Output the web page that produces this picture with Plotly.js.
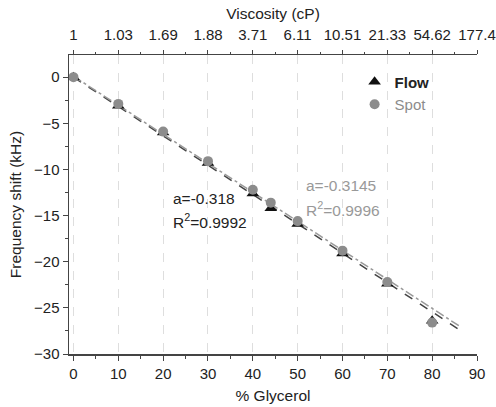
<!DOCTYPE html>
<html>
<head>
<meta charset="utf-8">
<script src="https://cdn.plot.ly/plotly-3.0.1.min.js"></script>
<style>html,body{margin:0;padding:0;background:#fff;}#chart{width:496px;height:407px;}</style>
</head>
<body>
<div id="chart"></div>
<script>
// Data
const glycerol = [0, 10, 20, 30, 40, 44, 50, 60, 70, 80];
const flowShift = [0, -3.1, -6.0, -9.3, -12.6, -14.2, -15.9, -19.1, -22.4, -26.4];
const spotShift = [0, -2.9, -5.9, -9.1, -12.2, -13.6, -15.6, -18.8, -22.2, -26.6];

const viscosityTickPos = [0, 10, 20, 30, 40, 50, 60, 70, 80, 90];
const viscosityLabels = ['1', '1.03', '1.69', '1.88', '3.71', '6.11', '10.51', '21.33', '54.62', '177.4'];

const fitX = [0, 86.5];
const flowSlope = -0.318, flowIntercept = 0.0;
const spotSlope = -0.3145, spotIntercept = 0.1;

const dark = '#222';
const gray = '#8c8c8c';
const font = 'Liberation Sans, Arial, sans-serif';

const traces = [
  {
    x: fitX, y: fitX.map(v => flowSlope * v + flowIntercept),
    mode: 'lines', line: {color: '#444', width: 1.5, dash: 'dash'},
    showlegend: false, hoverinfo: 'skip'
  },
  {
    x: fitX, y: fitX.map(v => spotSlope * v + spotIntercept),
    mode: 'lines', line: {color: '#999', width: 1.5, dash: 'dashdot'},
    showlegend: false, hoverinfo: 'skip'
  },
  {
    x: glycerol, y: flowShift, name: '<b>Flow</b>',
    mode: 'markers', marker: {symbol: 'triangle-up', size: 11, color: '#111'}
  },
  {
    x: glycerol, y: spotShift, name: '<span style="color:#8c8c8c">Spot</span>',
    mode: 'markers', marker: {symbol: 'circle', size: 10, color: gray}
  },
  {
    x: [0], y: [0], xaxis: 'x2', mode: 'markers', marker: {opacity: 0},
    showlegend: false, hoverinfo: 'skip'
  }
];

const tickFont = {size: 15, color: dark};
const titleFont = {size: 15.5, color: dark};

const layout = {
  width: 496, height: 407,
  margin: {l: 69, r: 19, t: 55, b: 53},
  paper_bgcolor: '#fff', plot_bgcolor: '#fff',
  font: {family: font, size: 14, color: dark},
  showlegend: true,
  legend: {x: 0.70, y: 0.965, xanchor: 'left', yanchor: 'top', bgcolor: 'rgba(0,0,0,0)',
           font: {size: 15, color: dark}, itemwidth: 30, tracegroupgap: 0},
  xaxis: {
    range: [-1, 90], tickvals: [0,10,20,30,40,50,60,70,80,90],
    ticks: 'outside', ticklen: 5, tickwidth: 1, tickcolor: '#444',
    minor: {tickvals: [5,15,25,35,45,55,65,75,85], ticks: 'outside', ticklen: 3, tickcolor: '#444', showgrid: false},
    showline: true, linecolor: '#444', linewidth: 1.5,
    showgrid: true, gridcolor: '#dedede', griddash: 'dash', gridwidth: 1,
    zeroline: false,
    title: {text: '% Glycerol', font: titleFont, standoff: 9},
    tickfont: tickFont
  },
  xaxis2: {
    overlaying: 'x', side: 'top', range: [-1, 90],
    tickvals: viscosityTickPos, ticktext: viscosityLabels,
    ticks: 'outside', ticklen: 4, tickwidth: 1, tickcolor: '#444',
    ticklabelstandoff: 4,
    minor: {tickvals: [5,15,25,35,45,55,65,75,85], ticks: 'outside', ticklen: 2, tickcolor: '#444'},
    showline: true, linecolor: '#444', linewidth: 1.5,
    showgrid: false, zeroline: false,
    title: {text: 'Viscosity (cP)', font: titleFont, standoff: 2},
    tickfont: tickFont
  },
  yaxis: {
    range: [-30, 2.4], tickvals: [-30,-25,-20,-15,-10,-5,0],
    ticks: 'outside', ticklen: 5, tickwidth: 1, tickcolor: '#444',
    minor: {tickvals: [-27.5,-22.5,-17.5,-12.5,-7.5,-2.5], ticks: 'outside', ticklen: 3, tickcolor: '#444'},
    showline: true, linecolor: '#444', linewidth: 1.5,
    showgrid: false, zeroline: false,
    title: {text: 'Frequency shift (kHz)', font: titleFont, standoff: 8},
    tickfont: tickFont
  },
  annotations: [
    {xref: 'x', yref: 'y', x: 21.7, y: -13.1, xanchor: 'left', showarrow: false,
     text: 'a=-0.318', font: {size: 15.5, color: dark}},
    {xref: 'x', yref: 'y', x: 21.7, y: -15.6, xanchor: 'left', showarrow: false,
     text: 'R<sup>2</sup>=0.9992', font: {size: 15.5, color: dark}},
    {xref: 'x', yref: 'y', x: 51.4, y: -11.7, xanchor: 'left', showarrow: false,
     text: 'a=-0.3145', font: {size: 15.5, color: '#999'}},
    {xref: 'x', yref: 'y', x: 51.4, y: -14.3, xanchor: 'left', showarrow: false,
     text: 'R<sup>2</sup>=0.9996', font: {size: 15.5, color: '#999'}}
  ]
};

Plotly.newPlot('chart', traces, layout, {displayModeBar: false, staticPlot: true});
</script>
</body>
</html>
